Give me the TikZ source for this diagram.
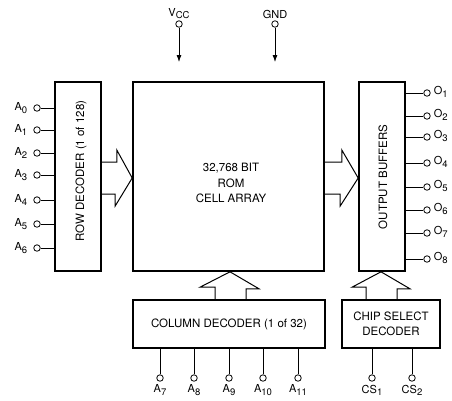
\documentclass[tikz,border=0pt]{standalone}
\usepackage{fontspec}
\setmainfont{TeX Gyre Heros}
\usetikzlibrary{arrows.meta, positioning}
\newcommand{\lowsub}[1]{\raisebox{-2.5pt}{\fontsize{9.5}{10}\selectfont #1}}

\begin{document}
\begin{tikzpicture}[
  x=1pt, y=-1pt, >={Latex[length=7pt,width=5pt]},
  block/.style = {draw, line width=1.6pt, rectangle, inner sep=0pt, align=center,
                  font=\fontsize{11.5}{14.5}\selectfont},
  btext/.style = {font=\fontsize{11.5}{15.5}\selectfont, align=center, inner sep=0pt},
  pin/.style   = {draw, circle, line width=0.8pt, inner sep=0pt, minimum size=6.5pt},
  lbl/.style   = {font=\fontsize{11}{12}\selectfont, inner sep=1pt},
  wire/.style  = {line width=0.8pt},
  fat/.style   = {line width=1pt, line join=miter},
]
\useasboundingbox (0,0) rectangle (452,400);

%--- blocks ---
  \node[block, minimum width=46pt,  minimum height=189pt] (rd)  at (78,176.5)  {};
  \node[block, minimum width=191pt, minimum height=189pt] (rom) at (228.5,176.5) {};
  \node[block, minimum width=46pt,  minimum height=189pt] (ob)  at (382,176.5) {};
  \node[block, minimum width=192pt, minimum height=48pt]  (cd)  at (229,324)   {COLUMN DECODER (1 of 32)};
  \node[block, minimum width=98pt,  minimum height=48pt]  (cs)  at (391,324)   {CHIP SELECT\\DECODER};

  \node[btext, rotate=90] (rdtxt)  at (81,171)  {ROW DECODER (1 of 128)};
  \node[btext, rotate=90] (obtxt)  at (383,177) {OUTPUT BUFFERS};
  \node[btext]            (romtxt) at (231,183) {32,768 BIT\\ROM\\CELL ARRAY};

%--- supply ---
  \node[pin] (vcc) at (179,24) {};
  \node[lbl, above=0pt of vcc] (vccl) {V\lowsub{CC}};
  \coordinate (vccend) at (179,62);
  \draw[wire,->] (vcc) -- (vccend);

  \node[pin] (gnd) at (275,24) {};
  \node[lbl, above=0pt of gnd] (gndl) {GND};
  \coordinate (gndend) at (275,62);
  \draw[wire,->] (gnd) -- (gndend);

%--- row address ---
  \node[pin] (a0) at (37,108) {};
  \node[pin] (a1) at (37,130) {};
  \node[pin] (a2) at (37,153) {};
  \node[pin] (a3) at (37,175) {};
  \node[pin] (a4) at (37,200) {};
  \node[pin] (a5) at (37,224) {};
  \node[pin] (a6) at (37,248) {};
  \node[lbl, left=5pt of a0] (a0l) {A\lowsub{0}};
  \node[lbl, left=5pt of a1] (a1l) {A\lowsub{1}};
  \node[lbl, left=5pt of a2] (a2l) {A\lowsub{2}};
  \node[lbl, left=5pt of a3] (a3l) {A\lowsub{3}};
  \node[lbl, left=5pt of a4] (a4l) {A\lowsub{4}};
  \node[lbl, left=5pt of a5] (a5l) {A\lowsub{5}};
  \node[lbl, left=5pt of a6] (a6l) {A\lowsub{6}};
  \draw[wire] (a0) -- (a0 -| rd.west);
  \draw[wire] (a1) -- (a1 -| rd.west);
  \draw[wire] (a2) -- (a2 -| rd.west);
  \draw[wire] (a3) -- (a3 -| rd.west);
  \draw[wire] (a4) -- (a4 -| rd.west);
  \draw[wire] (a5) -- (a5 -| rd.west);
  \draw[wire] (a6) -- (a6 -| rd.west);

%--- outputs ---
  \node[pin] (o1) at (427,93)  {};
  \node[pin] (o2) at (427,116) {};
  \node[pin] (o3) at (427,137) {};
  \node[pin] (o4) at (427,163) {};
  \node[pin] (o5) at (427,187) {};
  \node[pin] (o6) at (427,210) {};
  \node[pin] (o7) at (427,233) {};
  \node[pin] (o8) at (427,259) {};
  \node[lbl, right=2pt of o1, yshift=1pt] (o1l) {O\lowsub{1}};
  \node[lbl, right=2pt of o2, yshift=1pt] (o2l) {O\lowsub{2}};
  \node[lbl, right=2pt of o3, yshift=1pt] (o3l) {O\lowsub{3}};
  \node[lbl, right=2pt of o4, yshift=1pt] (o4l) {O\lowsub{4}};
  \node[lbl, right=2pt of o5, yshift=1pt] (o5l) {O\lowsub{5}};
  \node[lbl, right=2pt of o6, yshift=1pt] (o6l) {O\lowsub{6}};
  \node[lbl, right=2pt of o7, yshift=1pt] (o7l) {O\lowsub{7}};
  \node[lbl, right=2pt of o8, yshift=1pt] (o8l) {O\lowsub{8}};
  \draw[wire] (ob.east |- o1) -- (o1);
  \draw[wire] (ob.east |- o2) -- (o2);
  \draw[wire] (ob.east |- o3) -- (o3);
  \draw[wire] (ob.east |- o4) -- (o4);
  \draw[wire] (ob.east |- o5) -- (o5);
  \draw[wire] (ob.east |- o6) -- (o6);
  \draw[wire] (ob.east |- o7) -- (o7);
  \draw[wire] (ob.east |- o8) -- (o8);

%--- column address and chip select ---
  \node[pin] (a7)  at (160,378) {};
  \node[pin] (a8)  at (194,378) {};
  \node[pin] (a9)  at (229,378) {};
  \node[pin] (a10) at (263,378) {};
  \node[pin] (a11) at (298,378) {};
  \node[pin] (cs1) at (372,378) {};
  \node[pin] (cs2) at (412,378) {};
  \node[lbl, below=2pt of a7]  (a7l)  {A\lowsub{7}};
  \node[lbl, below=2pt of a8]  (a8l)  {A\lowsub{8}};
  \node[lbl, below=2pt of a9]  (a9l)  {A\lowsub{9}};
  \node[lbl, below=2pt of a10] (a10l) {A\lowsub{10}};
  \node[lbl, below=2pt of a11] (a11l) {A\lowsub{11}};
  \node[lbl, below=2pt of cs1] (cs1l) {CS\lowsub{1}};
  \node[lbl, below=2pt of cs2] (cs2l) {CS\lowsub{2}};
  \draw[wire] (cd.south -| a7)  -- (a7);
  \draw[wire] (cd.south -| a8)  -- (a8);
  \draw[wire] (cd.south -| a9)  -- (a9);
  \draw[wire] (cd.south -| a10) -- (a10);
  \draw[wire] (cd.south -| a11) -- (a11);
  \draw[wire] (cs.south -| cs1) -- (cs1);
  \draw[wire] (cs.south -| cs2) -- (cs2);

%--- hollow bus arrows ---
  \draw[fat] (rd.east |- 0,162) -- ++(15,0) -- ++(0,-12) -- (rom.west |- 0,178)
             -- ++(-17,28) -- ++(0,-12) -- ++(-15,0);
  \draw[fat] (rom.east |- 0,162) -- ++(17,0) -- ++(0,-12) -- (ob.west |- 0,178)
             -- ++(-18,28) -- ++(0,-12) -- ++(-17,0);
  \draw[fat] (cd.north -| 215,0) -- ++(0,-12) -- ++(-15,0) -- (rom.south -| 230,0)
             -- ++(29,17) -- ++(-13,0) -- ++(0,12);
  \draw[fat] (cs.north -| 366,0) -- ++(0,-12) -- ++(-14,0) -- (ob.south -| 381,0)
             -- ++(29,17) -- ++(-13,0) -- ++(0,12);
\end{tikzpicture}
\end{document}
